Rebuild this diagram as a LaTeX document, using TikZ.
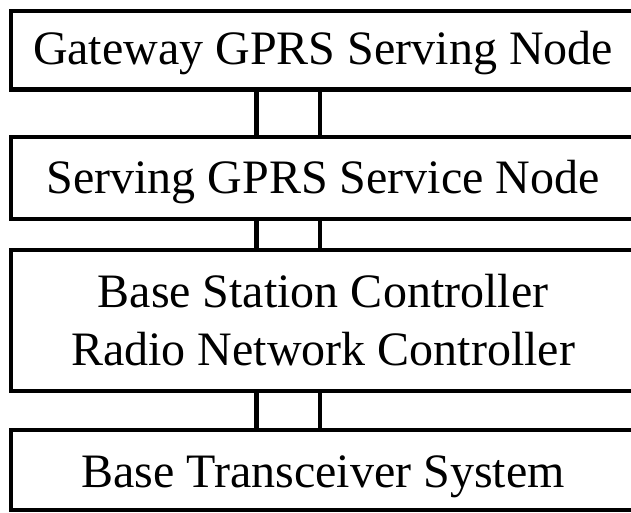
\documentclass[tikz,border=0pt]{standalone}
\usepackage{fontspec}
\setmainfont{Liberation Serif}
\begin{document}
\begin{tikzpicture}[x=1pt,y=-1pt,
  layerbox/.style={draw=black, line width=4.5pt, rectangle, inner sep=0pt,
    minimum width=624pt},
  layertext/.style={anchor=base, inner sep=0pt, align=center,
    font=\fontsize{48}{58}\selectfont},
  link/.style={draw=black, line width=4.5pt}]
\useasboundingbox (0,0) rectangle (631,512);
\clip (0,0) rectangle (631,512);
% boxes
\node[layerbox, minimum height=78.5pt] (b1) at (323,50.25) {};
\node[layerbox, minimum height=82pt]   (b2) at (323,178) {};
\node[layerbox, minimum height=141pt]  (b3) at (323,320.5) {};
\node[layerbox, minimum height=80pt]   (b4) at (323,470) {};
% texts
\node[layertext] (t1) at (323,64)  {Gateway GPRS Serving Node};
\node[layertext] (t2) at (323,193) {Serving GPRS Service Node};
\node[layertext] (t3) at (323,365) {Base Station Controller\\Radio Network Controller};
\node[layertext] (t4) at (323,487) {Base Transceiver System};
% connectors
\coordinate (L) at (256.5,0);
\coordinate (R) at (320,0);
\path[link] (b1.south -| L) -- (b2.north -| L);
\path[link] (b1.south -| R) -- (b2.north -| R);
\path[link] (b2.south -| L) -- (b3.north -| L);
\path[link] (b2.south -| R) -- (b3.north -| R);
\path[link] (b3.south -| L) -- (b4.north -| L);
\path[link] (b3.south -| R) -- (b4.north -| R);
\end{tikzpicture}
\end{document}
